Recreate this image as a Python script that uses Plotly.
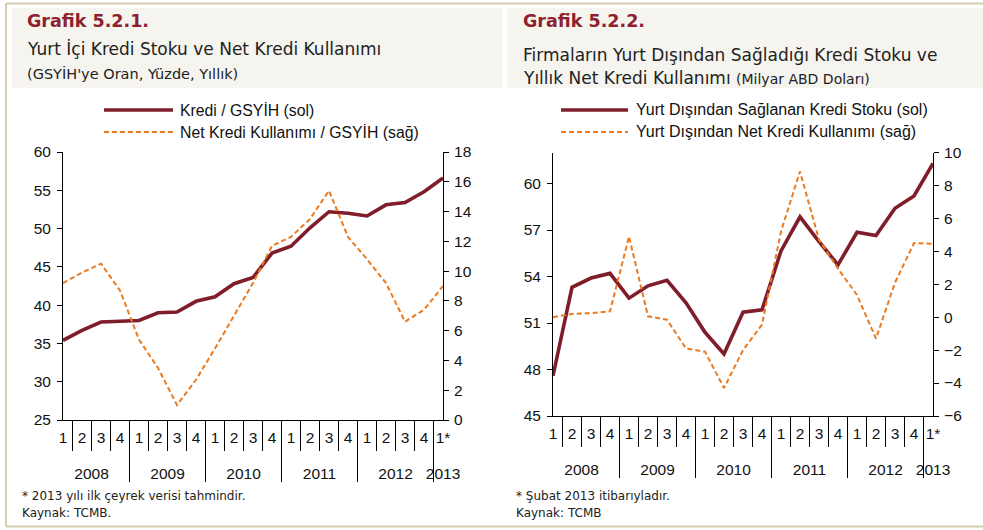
import plotly.graph_objects as go

# ---------------- data ----------------
years = ["2008"] * 4 + ["2009"] * 4 + ["2010"] * 4 + ["2011"] * 4 + ["2012"] * 4 + ["2013"]
quarters = ["1", "2", "3", "4"] * 5 + ["1*"]

# Grafik 5.2.1
kredi_gsyih = [35.4, 36.7, 37.8, 37.9, 38.0, 39.0, 39.1, 40.5, 41.1, 42.8, 43.6,
               46.8, 47.7, 50.1, 52.2, 52.0, 51.65, 53.1, 53.4, 54.8, 56.6]
net_kredi_gsyih = [9.2, 9.9, 10.5, 8.7, 5.4, 3.5, 1.0, 2.7, 4.8, 7.0, 9.2,
                   11.7, 12.3, 13.5, 15.4, 12.3, 10.8, 9.2, 6.6, 7.4, 9.0]

# Grafik 5.2.2
yd_stok = [47.6, 53.3, 53.9, 54.2, 52.6, 53.4, 53.75, 52.3, 50.4, 49.0, 51.7,
           51.85, 55.65, 57.85, 56.25, 54.75, 56.85, 56.65, 58.4, 59.2, 61.3]
yd_net = [0.0, 0.2, 0.25, 0.35, 4.9, 0.05, -0.15, -1.9, -2.1, -4.3, -2.0,
          -0.45, 5.2, 8.85, 4.7, 2.95, 1.35, -1.3, 2.1, 4.5, 4.45]

W, H = 983, 530
RED = "#7f1d2b"
ORANGE = "#eb7a1f"
TITLE_RED = "#8e1f2f"
FRAME = "#d5ccb3"
BOX = "#f5f4ef"
SANS = "Liberation Sans, Arial, sans-serif"
GOTH = "DejaVu Sans, sans-serif"
DASH = "5px,3px"

def px(x):
    return x / W

def py(y):
    return 1 - y / H

# quarter labels carry an empty second line so the year row sits lower
q_labels = [q + "<br>&nbsp;" for q in quarters]
x_cat = [years, q_labels]

fig = go.Figure()
fig.add_trace(go.Scatter(x=x_cat, y=kredi_gsyih, mode="lines", xaxis="x", yaxis="y",
                         line=dict(color=RED, width=3.6), showlegend=False))
fig.add_trace(go.Scatter(x=x_cat, y=net_kredi_gsyih, mode="lines", xaxis="x", yaxis="y2",
                         line=dict(color=ORANGE, width=2, dash=DASH), showlegend=False))
fig.add_trace(go.Scatter(x=x_cat, y=yd_stok, mode="lines", xaxis="x2", yaxis="y3",
                         line=dict(color=RED, width=3.6), showlegend=False))
fig.add_trace(go.Scatter(x=x_cat, y=yd_net, mode="lines", xaxis="x2", yaxis="y4",
                         line=dict(color=ORANGE, width=2, dash=DASH), showlegend=False))

tickfont = dict(family=SANS, size=15.5, color="#111")

xcommon = dict(type="multicategory", tickson="boundaries", ticks="outside", ticklen=30,
               tickcolor="black", showdividers=True, dividercolor="black", dividerwidth=1,
               showline=True, linecolor="black", linewidth=1, showgrid=False,
               tickfont=tickfont, automargin=False, ticklabelstandoff=3,
               tickangle=0, dtick=1, tickmode="linear")
ycommon = dict(showline=True, linecolor="black", linewidth=1, ticks="outside", ticklen=5,
               tickcolor="black", showgrid=False, zeroline=False, tickfont=tickfont,
               automargin=False)

fig.update_layout(
    width=W, height=H, margin=dict(l=0, r=0, t=0, b=0),
    paper_bgcolor="white", plot_bgcolor="white", showlegend=False,
    xaxis=dict(domain=[px(63), px(443)], anchor="y", **xcommon),
    yaxis=dict(domain=[py(420), py(152)], anchor="x", range=[25, 60], dtick=5, side="left",
               ticklabelstandoff=3, **ycommon),
    yaxis2=dict(overlaying="y", anchor="x", side="right", range=[0, 18], dtick=2,
                ticklabelstandoff=2, **ycommon),
    xaxis2=dict(domain=[px(553), px(933)], anchor="y3", **xcommon),
    yaxis3=dict(domain=[py(416), py(152.5)], anchor="x2", range=[45, 62],
                tickvals=[45, 48, 51, 54, 57, 60], side="left", ticklabelstandoff=3, **ycommon),
    yaxis4=dict(overlaying="y3", anchor="x2", side="right", range=[-6, 10], dtick=2,
                ticklabelstandoff=2, **ycommon),
)

shapes = []
# header boxes
shapes.append(dict(type="rect", xref="paper", yref="paper", x0=px(12), x1=px(502), y0=py(88), y1=py(8),
                   fillcolor=BOX, line=dict(width=0), layer="below"))
shapes.append(dict(type="rect", xref="paper", yref="paper", x0=px(507), x1=px(983), y0=py(88), y1=py(8),
                   fillcolor=BOX, line=dict(width=0), layer="below"))
# frame
shapes.append(dict(type="line", xref="paper", yref="paper", x0=px(6), x1=1, y0=py(3.5), y1=py(3.5),
                   line=dict(color=FRAME, width=2)))
shapes.append(dict(type="line", xref="paper", yref="paper", x0=px(6), x1=px(6), y0=py(3.5), y1=py(526.5),
                   line=dict(color=FRAME, width=2)))
shapes.append(dict(type="line", xref="paper", yref="paper", x0=px(6), x1=1, y0=py(526.5), y1=py(526.5),
                   line=dict(color=FRAME, width=2)))
# legend samples
shapes.append(dict(type="line", xref="paper", yref="paper", x0=px(104), x1=px(173), y0=py(110), y1=py(110),
                   line=dict(color=RED, width=3.6)))
shapes.append(dict(type="line", xref="paper", yref="paper", x0=px(104), x1=px(173), y0=py(132), y1=py(132),
                   line=dict(color=ORANGE, width=2, dash=DASH)))
shapes.append(dict(type="line", xref="paper", yref="paper", x0=px(561), x1=px(628), y0=py(110), y1=py(110),
                   line=dict(color=RED, width=3.6)))
shapes.append(dict(type="line", xref="paper", yref="paper", x0=px(561), x1=px(628), y0=py(132), y1=py(132),
                   line=dict(color=ORANGE, width=2, dash=DASH)))
fig.update_layout(shapes=shapes)

def ann(x, y, text, size, color="#222", family=GOTH):
    return dict(xref="paper", yref="paper", x=px(x), y=py(y), text=text, showarrow=False,
                xanchor="left", yanchor="middle", align="left",
                font=dict(family=family, size=size, color=color))

anns = [
    ann(25, 21, "<b>Grafik 5.2.1.</b>", 17.5, TITLE_RED),
    ann(25, 49, "Yurt İçi Kredi Stoku ve Net Kredi Kullanımı", 17),
    ann(25, 74, "(GSYİH'ye Oran, Yüzde, Yıllık)", 14.5),
    ann(178, 110, "Kredi / GSYİH (sol)", 15.8, "#111", SANS),
    ann(178, 132, "Net Kredi Kullanımı / GSYİH (sağ)", 15.8, "#111", SANS),
    ann(20, 496, "* 2013 yılı ilk çeyrek verisi tahmindir.", 12),
    ann(20, 513, "Kaynak: TCMB.", 12),
    ann(521, 21, "<b>Grafik 5.2.2.</b>", 17.5, TITLE_RED),
    ann(521, 55, "Firmaların Yurt Dışından Sağladığı Kredi Stoku ve", 17),
    ann(521, 78, "Yıllık Net Kredi Kullanımı <span style='font-size:14px'>(Milyar ABD Doları)</span>", 17),
    ann(634, 110, "Yurt Dışından Sağlanan Kredi Stoku (sol)", 16, "#111", SANS),
    ann(634, 132, "Yurt Dışından Net Kredi Kullanımı (sağ)", 16, "#111", SANS),
    ann(514, 496, "* Şubat 2013 itibarıyladır.", 12),
    ann(514, 513, "Kaynak: TCMB", 12),
]
fig.update_layout(annotations=anns)

fig.write_html("out.html", config={"displayModeBar": False},
               post_script="document.body.style.margin='0';document.body.style.overflow='hidden';")
